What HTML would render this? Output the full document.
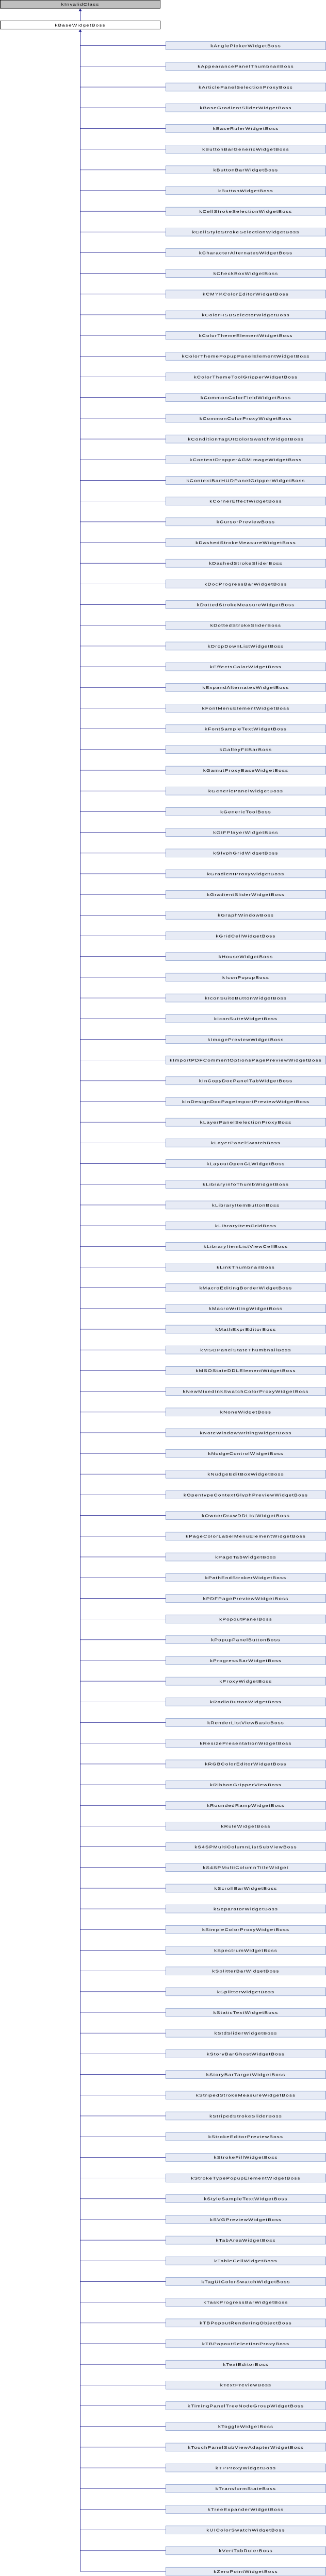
<!DOCTYPE html>
<html><head><meta charset="utf-8"><style>
html,body{margin:0;padding:0;background:#fff;width:100%;height:100%;overflow:hidden;}
svg{display:block;position:absolute;left:0;top:0;width:100vw;height:100vh;}
text{font-family:"Liberation Sans",Arial,sans-serif;font-size:10px;letter-spacing:1.15px;fill:#000;text-anchor:middle;}
.c{fill:#e7ebf5;stroke:#7d95c9;stroke-width:1;}
.l{stroke:#1a1a8f;stroke-width:1;}
</style></head><body>
<svg viewBox="0 0 632 6968" preserveAspectRatio="none" xmlns="http://www.w3.org/2000/svg" xmlns:xlink="http://www.w3.org/1999/xlink">
<defs><g id="b"><line class="l" x1="155.5" y1="11.5" x2="321" y2="11.5"/><rect class="c" x="321.5" y="0.5" width="310" height="22"/></g></defs>
<rect x="0.5" y="0.5" width="310" height="22" fill="#bfbfbf" stroke="#000"/>
<text x="155.5" y="15.5">kInvalidClass</text>
<rect x="0.5" y="56.5" width="310" height="22" fill="#fff" stroke="#000"/>
<text x="155.5" y="71.5">kBaseWidgetBoss</text>
<line class="l" x1="155.5" y1="29" x2="155.5" y2="56"/>
<polygon points="155.5,23 152.5,30 158.5,30" fill="#1a1a8f"/>
<line class="l" x1="155.5" y1="85" x2="155.5" y2="6956"/>
<polygon points="155.5,79 152.5,86 158.5,86" fill="#1a1a8f"/>
<g transform="translate(0,112)"><use xlink:href="#b" href="#b"/><text x="476.5" y="15.5">kAnglePickerWidgetBoss</text></g>
<g transform="translate(0,168)"><use xlink:href="#b" href="#b"/><text x="476.5" y="15.5">kAppearancePanelThumbnailBoss</text></g>
<g transform="translate(0,224)"><use xlink:href="#b" href="#b"/><text x="476.5" y="15.5">kArticlePanelSelectionProxyBoss</text></g>
<g transform="translate(0,280)"><use xlink:href="#b" href="#b"/><text x="476.5" y="15.5">kBaseGradientSliderWidgetBoss</text></g>
<g transform="translate(0,336)"><use xlink:href="#b" href="#b"/><text x="476.5" y="15.5">kBaseRulerWidgetBoss</text></g>
<g transform="translate(0,392)"><use xlink:href="#b" href="#b"/><text x="476.5" y="15.5">kButtonBarGenericWidgetBoss</text></g>
<g transform="translate(0,448)"><use xlink:href="#b" href="#b"/><text x="476.5" y="15.5">kButtonBarWidgetBoss</text></g>
<g transform="translate(0,504)"><use xlink:href="#b" href="#b"/><text x="476.5" y="15.5">kButtonWidgetBoss</text></g>
<g transform="translate(0,560)"><use xlink:href="#b" href="#b"/><text x="476.5" y="15.5">kCellStrokeSelectionWidgetBoss</text></g>
<g transform="translate(0,616)"><use xlink:href="#b" href="#b"/><text x="476.5" y="15.5">kCellStyleStrokeSelectionWidgetBoss</text></g>
<g transform="translate(0,672)"><use xlink:href="#b" href="#b"/><text x="476.5" y="15.5">kCharacterAlternatesWidgetBoss</text></g>
<g transform="translate(0,728)"><use xlink:href="#b" href="#b"/><text x="476.5" y="15.5">kCheckBoxWidgetBoss</text></g>
<g transform="translate(0,784)"><use xlink:href="#b" href="#b"/><text x="476.5" y="15.5">kCMYKColorEditorWidgetBoss</text></g>
<g transform="translate(0,840)"><use xlink:href="#b" href="#b"/><text x="476.5" y="15.5">kColorHSBSelectorWidgetBoss</text></g>
<g transform="translate(0,896)"><use xlink:href="#b" href="#b"/><text x="476.5" y="15.5">kColorThemeElementWidgetBoss</text></g>
<g transform="translate(0,952)"><use xlink:href="#b" href="#b"/><text x="476.5" y="15.5">kColorThemePopupPanelElementWidgetBoss</text></g>
<g transform="translate(0,1008)"><use xlink:href="#b" href="#b"/><text x="476.5" y="15.5">kColorThemeToolGripperWidgetBoss</text></g>
<g transform="translate(0,1064)"><use xlink:href="#b" href="#b"/><text x="476.5" y="15.5">kCommonColorFieldWidgetBoss</text></g>
<g transform="translate(0,1120)"><use xlink:href="#b" href="#b"/><text x="476.5" y="15.5">kCommonColorProxyWidgetBoss</text></g>
<g transform="translate(0,1176)"><use xlink:href="#b" href="#b"/><text x="476.5" y="15.5">kConditionTagUIColorSwatchWidgetBoss</text></g>
<g transform="translate(0,1232)"><use xlink:href="#b" href="#b"/><text x="476.5" y="15.5">kContentDropperAGMImageWidgetBoss</text></g>
<g transform="translate(0,1288)"><use xlink:href="#b" href="#b"/><text x="476.5" y="15.5">kContextBarHUDPanelGripperWidgetBoss</text></g>
<g transform="translate(0,1344)"><use xlink:href="#b" href="#b"/><text x="476.5" y="15.5">kCornerEffectWidgetBoss</text></g>
<g transform="translate(0,1400)"><use xlink:href="#b" href="#b"/><text x="476.5" y="15.5">kCursorPreviewBoss</text></g>
<g transform="translate(0,1456)"><use xlink:href="#b" href="#b"/><text x="476.5" y="15.5">kDashedStrokeMeasureWidgetBoss</text></g>
<g transform="translate(0,1512)"><use xlink:href="#b" href="#b"/><text x="476.5" y="15.5">kDashedStrokeSliderBoss</text></g>
<g transform="translate(0,1568)"><use xlink:href="#b" href="#b"/><text x="476.5" y="15.5">kDocProgressBarWidgetBoss</text></g>
<g transform="translate(0,1624)"><use xlink:href="#b" href="#b"/><text x="476.5" y="15.5">kDottedStrokeMeasureWidgetBoss</text></g>
<g transform="translate(0,1680)"><use xlink:href="#b" href="#b"/><text x="476.5" y="15.5">kDottedStrokeSliderBoss</text></g>
<g transform="translate(0,1736)"><use xlink:href="#b" href="#b"/><text x="476.5" y="15.5">kDropDownListWidgetBoss</text></g>
<g transform="translate(0,1792)"><use xlink:href="#b" href="#b"/><text x="476.5" y="15.5">kEffectsColorWidgetBoss</text></g>
<g transform="translate(0,1848)"><use xlink:href="#b" href="#b"/><text x="476.5" y="15.5">kExpandAlternatesWidgetBoss</text></g>
<g transform="translate(0,1904)"><use xlink:href="#b" href="#b"/><text x="476.5" y="15.5">kFontMenuElementWidgetBoss</text></g>
<g transform="translate(0,1960)"><use xlink:href="#b" href="#b"/><text x="476.5" y="15.5">kFontSampleTextWidgetBoss</text></g>
<g transform="translate(0,2016)"><use xlink:href="#b" href="#b"/><text x="476.5" y="15.5">kGalleyFitBarBoss</text></g>
<g transform="translate(0,2072)"><use xlink:href="#b" href="#b"/><text x="476.5" y="15.5">kGamutProxyBaseWidgetBoss</text></g>
<g transform="translate(0,2128)"><use xlink:href="#b" href="#b"/><text x="476.5" y="15.5">kGenericPanelWidgetBoss</text></g>
<g transform="translate(0,2184)"><use xlink:href="#b" href="#b"/><text x="476.5" y="15.5">kGenericToolBoss</text></g>
<g transform="translate(0,2240)"><use xlink:href="#b" href="#b"/><text x="476.5" y="15.5">kGIFPlayerWidgetBoss</text></g>
<g transform="translate(0,2296)"><use xlink:href="#b" href="#b"/><text x="476.5" y="15.5">kGlyphGridWidgetBoss</text></g>
<g transform="translate(0,2352)"><use xlink:href="#b" href="#b"/><text x="476.5" y="15.5">kGradientProxyWidgetBoss</text></g>
<g transform="translate(0,2408)"><use xlink:href="#b" href="#b"/><text x="476.5" y="15.5">kGradientSliderWidgetBoss</text></g>
<g transform="translate(0,2464)"><use xlink:href="#b" href="#b"/><text x="476.5" y="15.5">kGraphWindowBoss</text></g>
<g transform="translate(0,2520)"><use xlink:href="#b" href="#b"/><text x="476.5" y="15.5">kGridCellWidgetBoss</text></g>
<g transform="translate(0,2576)"><use xlink:href="#b" href="#b"/><text x="476.5" y="15.5">kHouseWidgetBoss</text></g>
<g transform="translate(0,2632)"><use xlink:href="#b" href="#b"/><text x="476.5" y="15.5">kIconPopupBoss</text></g>
<g transform="translate(0,2688)"><use xlink:href="#b" href="#b"/><text x="476.5" y="15.5">kIconSuiteButtonWidgetBoss</text></g>
<g transform="translate(0,2744)"><use xlink:href="#b" href="#b"/><text x="476.5" y="15.5">kIconSuiteWidgetBoss</text></g>
<g transform="translate(0,2800)"><use xlink:href="#b" href="#b"/><text x="476.5" y="15.5">kImagePreviewWidgetBoss</text></g>
<g transform="translate(0,2856)"><use xlink:href="#b" href="#b"/><text x="476.5" y="15.5">kImportPDFCommentOptionsPagePreviewWidgetBoss</text></g>
<g transform="translate(0,2912)"><use xlink:href="#b" href="#b"/><text x="476.5" y="15.5">kInCopyDocPanelTabWidgetBoss</text></g>
<g transform="translate(0,2968)"><use xlink:href="#b" href="#b"/><text x="476.5" y="15.5">kInDesignDocPageImportPreviewWidgetBoss</text></g>
<g transform="translate(0,3024)"><use xlink:href="#b" href="#b"/><text x="476.5" y="15.5">kLayerPanelSelectionProxyBoss</text></g>
<g transform="translate(0,3080)"><use xlink:href="#b" href="#b"/><text x="476.5" y="15.5">kLayerPanelSwatchBoss</text></g>
<g transform="translate(0,3136)"><use xlink:href="#b" href="#b"/><text x="476.5" y="15.5">kLayoutOpenGLWidgetBoss</text></g>
<g transform="translate(0,3192)"><use xlink:href="#b" href="#b"/><text x="476.5" y="15.5">kLibraryinfoThumbWidgetBoss</text></g>
<g transform="translate(0,3248)"><use xlink:href="#b" href="#b"/><text x="476.5" y="15.5">kLibraryItemButtonBoss</text></g>
<g transform="translate(0,3304)"><use xlink:href="#b" href="#b"/><text x="476.5" y="15.5">kLibraryItemGridBoss</text></g>
<g transform="translate(0,3360)"><use xlink:href="#b" href="#b"/><text x="476.5" y="15.5">kLibraryItemListViewCellBoss</text></g>
<g transform="translate(0,3416)"><use xlink:href="#b" href="#b"/><text x="476.5" y="15.5">kLinkThumbnailBoss</text></g>
<g transform="translate(0,3472)"><use xlink:href="#b" href="#b"/><text x="476.5" y="15.5">kMacroEditingBorderWidgetBoss</text></g>
<g transform="translate(0,3528)"><use xlink:href="#b" href="#b"/><text x="476.5" y="15.5">kMacroWritingWidgetBoss</text></g>
<g transform="translate(0,3584)"><use xlink:href="#b" href="#b"/><text x="476.5" y="15.5">kMathExprEditorBoss</text></g>
<g transform="translate(0,3640)"><use xlink:href="#b" href="#b"/><text x="476.5" y="15.5">kMSOPanelStateThumbnailBoss</text></g>
<g transform="translate(0,3696)"><use xlink:href="#b" href="#b"/><text x="476.5" y="15.5">kMSOStateDDLElementWidgetBoss</text></g>
<g transform="translate(0,3752)"><use xlink:href="#b" href="#b"/><text x="476.5" y="15.5">kNewMixedInkSwatchColorProxyWidgetBoss</text></g>
<g transform="translate(0,3808)"><use xlink:href="#b" href="#b"/><text x="476.5" y="15.5">kNoneWidgetBoss</text></g>
<g transform="translate(0,3864)"><use xlink:href="#b" href="#b"/><text x="476.5" y="15.5">kNoteWindowWritingWidgetBoss</text></g>
<g transform="translate(0,3920)"><use xlink:href="#b" href="#b"/><text x="476.5" y="15.5">kNudgeControlWidgetBoss</text></g>
<g transform="translate(0,3976)"><use xlink:href="#b" href="#b"/><text x="476.5" y="15.5">kNudgeEditBoxWidgetBoss</text></g>
<g transform="translate(0,4032)"><use xlink:href="#b" href="#b"/><text x="476.5" y="15.5">kOpentypeContextGlyphPreviewWidgetBoss</text></g>
<g transform="translate(0,4088)"><use xlink:href="#b" href="#b"/><text x="476.5" y="15.5">kOwnerDrawDDListWidgetBoss</text></g>
<g transform="translate(0,4144)"><use xlink:href="#b" href="#b"/><text x="476.5" y="15.5">kPageColorLabelMenuElementWidgetBoss</text></g>
<g transform="translate(0,4200)"><use xlink:href="#b" href="#b"/><text x="476.5" y="15.5">kPageTabWidgetBoss</text></g>
<g transform="translate(0,4256)"><use xlink:href="#b" href="#b"/><text x="476.5" y="15.5">kPathEndStrokerWidgetBoss</text></g>
<g transform="translate(0,4312)"><use xlink:href="#b" href="#b"/><text x="476.5" y="15.5">kPDFPagePreviewWidgetBoss</text></g>
<g transform="translate(0,4368)"><use xlink:href="#b" href="#b"/><text x="476.5" y="15.5">kPopoutPanelBoss</text></g>
<g transform="translate(0,4424)"><use xlink:href="#b" href="#b"/><text x="476.5" y="15.5">kPopupPanelButtonBoss</text></g>
<g transform="translate(0,4480)"><use xlink:href="#b" href="#b"/><text x="476.5" y="15.5">kProgressBarWidgetBoss</text></g>
<g transform="translate(0,4536)"><use xlink:href="#b" href="#b"/><text x="476.5" y="15.5">kProxyWidgetBoss</text></g>
<g transform="translate(0,4592)"><use xlink:href="#b" href="#b"/><text x="476.5" y="15.5">kRadioButtonWidgetBoss</text></g>
<g transform="translate(0,4648)"><use xlink:href="#b" href="#b"/><text x="476.5" y="15.5">kRenderListViewBasicBoss</text></g>
<g transform="translate(0,4704)"><use xlink:href="#b" href="#b"/><text x="476.5" y="15.5">kResizePresentationWidgetBoss</text></g>
<g transform="translate(0,4760)"><use xlink:href="#b" href="#b"/><text x="476.5" y="15.5">kRGBColorEditorWidgetBoss</text></g>
<g transform="translate(0,4816)"><use xlink:href="#b" href="#b"/><text x="476.5" y="15.5">kRibbonGripperViewBoss</text></g>
<g transform="translate(0,4872)"><use xlink:href="#b" href="#b"/><text x="476.5" y="15.5">kRoundedRampWidgetBoss</text></g>
<g transform="translate(0,4928)"><use xlink:href="#b" href="#b"/><text x="476.5" y="15.5">kRuleWidgetBoss</text></g>
<g transform="translate(0,4984)"><use xlink:href="#b" href="#b"/><text x="476.5" y="15.5">kS4SPMultiColumnListSubViewBoss</text></g>
<g transform="translate(0,5040)"><use xlink:href="#b" href="#b"/><text x="476.5" y="15.5">kS4SPMultiColumnTitleWidget</text></g>
<g transform="translate(0,5096)"><use xlink:href="#b" href="#b"/><text x="476.5" y="15.5">kScrollBarWidgetBoss</text></g>
<g transform="translate(0,5152)"><use xlink:href="#b" href="#b"/><text x="476.5" y="15.5">kSeparatorWidgetBoss</text></g>
<g transform="translate(0,5208)"><use xlink:href="#b" href="#b"/><text x="476.5" y="15.5">kSimpleColorProxyWidgetBoss</text></g>
<g transform="translate(0,5264)"><use xlink:href="#b" href="#b"/><text x="476.5" y="15.5">kSpectrumWidgetBoss</text></g>
<g transform="translate(0,5320)"><use xlink:href="#b" href="#b"/><text x="476.5" y="15.5">kSplitterBarWidgetBoss</text></g>
<g transform="translate(0,5376)"><use xlink:href="#b" href="#b"/><text x="476.5" y="15.5">kSplitterWidgetBoss</text></g>
<g transform="translate(0,5432)"><use xlink:href="#b" href="#b"/><text x="476.5" y="15.5">kStaticTextWidgetBoss</text></g>
<g transform="translate(0,5488)"><use xlink:href="#b" href="#b"/><text x="476.5" y="15.5">kStdSliderWidgetBoss</text></g>
<g transform="translate(0,5544)"><use xlink:href="#b" href="#b"/><text x="476.5" y="15.5">kStoryBarGhostWidgetBoss</text></g>
<g transform="translate(0,5600)"><use xlink:href="#b" href="#b"/><text x="476.5" y="15.5">kStoryBarTargetWidgetBoss</text></g>
<g transform="translate(0,5656)"><use xlink:href="#b" href="#b"/><text x="476.5" y="15.5">kStripedStrokeMeasureWidgetBoss</text></g>
<g transform="translate(0,5712)"><use xlink:href="#b" href="#b"/><text x="476.5" y="15.5">kStripedStrokeSliderBoss</text></g>
<g transform="translate(0,5768)"><use xlink:href="#b" href="#b"/><text x="476.5" y="15.5">kStrokeEditorPreviewBoss</text></g>
<g transform="translate(0,5824)"><use xlink:href="#b" href="#b"/><text x="476.5" y="15.5">kStrokeFillWidgetBoss</text></g>
<g transform="translate(0,5880)"><use xlink:href="#b" href="#b"/><text x="476.5" y="15.5">kStrokeTypePopupElementWidgetBoss</text></g>
<g transform="translate(0,5936)"><use xlink:href="#b" href="#b"/><text x="476.5" y="15.5">kStyleSampleTextWidgetBoss</text></g>
<g transform="translate(0,5992)"><use xlink:href="#b" href="#b"/><text x="476.5" y="15.5">kSVGPreviewWidgetBoss</text></g>
<g transform="translate(0,6048)"><use xlink:href="#b" href="#b"/><text x="476.5" y="15.5">kTabAreaWidgetBoss</text></g>
<g transform="translate(0,6104)"><use xlink:href="#b" href="#b"/><text x="476.5" y="15.5">kTableCellWidgetBoss</text></g>
<g transform="translate(0,6160)"><use xlink:href="#b" href="#b"/><text x="476.5" y="15.5">kTagUIColorSwatchWidgetBoss</text></g>
<g transform="translate(0,6216)"><use xlink:href="#b" href="#b"/><text x="476.5" y="15.5">kTaskProgressBarWidgetBoss</text></g>
<g transform="translate(0,6272)"><use xlink:href="#b" href="#b"/><text x="476.5" y="15.5">kTBPopoutRenderingObjectBoss</text></g>
<g transform="translate(0,6328)"><use xlink:href="#b" href="#b"/><text x="476.5" y="15.5">kTBPopoutSelectionProxyBoss</text></g>
<g transform="translate(0,6384)"><use xlink:href="#b" href="#b"/><text x="476.5" y="15.5">kTextEditorBoss</text></g>
<g transform="translate(0,6440)"><use xlink:href="#b" href="#b"/><text x="476.5" y="15.5">kTextPreviewBoss</text></g>
<g transform="translate(0,6496)"><use xlink:href="#b" href="#b"/><text x="476.5" y="15.5">kTimingPanelTreeNodeGroupWidgetBoss</text></g>
<g transform="translate(0,6552)"><use xlink:href="#b" href="#b"/><text x="476.5" y="15.5">kToggleWidgetBoss</text></g>
<g transform="translate(0,6608)"><use xlink:href="#b" href="#b"/><text x="476.5" y="15.5">kTouchPanelSubViewAdapterWidgetBoss</text></g>
<g transform="translate(0,6664)"><use xlink:href="#b" href="#b"/><text x="476.5" y="15.5">kTPProxyWidgetBoss</text></g>
<g transform="translate(0,6720)"><use xlink:href="#b" href="#b"/><text x="476.5" y="15.5">kTransformStateBoss</text></g>
<g transform="translate(0,6776)"><use xlink:href="#b" href="#b"/><text x="476.5" y="15.5">kTreeExpanderWidgetBoss</text></g>
<g transform="translate(0,6832)"><use xlink:href="#b" href="#b"/><text x="476.5" y="15.5">kUIColorSwatchWidgetBoss</text></g>
<g transform="translate(0,6888)"><use xlink:href="#b" href="#b"/><text x="476.5" y="15.5">kVertTabRulerBoss</text></g>
<g transform="translate(0,6944)"><use xlink:href="#b" href="#b"/><text x="476.5" y="15.5">kZeroPointWidgetBoss</text></g>
</svg>
</body></html>
